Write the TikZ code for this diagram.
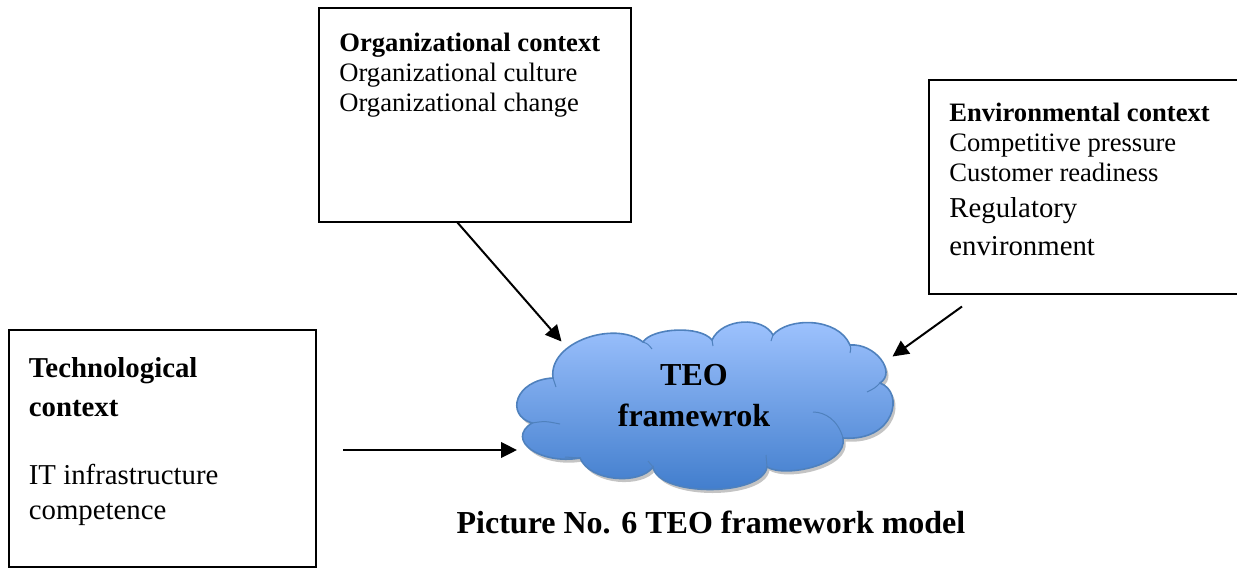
\documentclass[tikz,border=0pt]{standalone}
\usepackage{fontspec}
\setmainfont{Liberation Serif}
\usetikzlibrary{fit,arrows.meta}
\definecolor{cloudtop}{HTML}{A0C4FF}
\definecolor{cloudbot}{HTML}{3E7BCB}
\definecolor{cloudline}{HTML}{4F81BD}
\definecolor{cloudshadow}{HTML}{C4C4C4}
\tikzset{
  box/.style={draw=black, line width=1pt, inner sep=0pt},
  txt/.style={anchor=base west, inner sep=0pt},
  small/.style={font=\fontsize{13.3}{15}\selectfont},
  big/.style={font=\fontsize{14.4}{16}\selectfont},
  cloudtxt/.style={font=\fontsize{16}{18}\selectfont\bfseries, inner sep=0pt, anchor=base},
  arr/.style={line width=1pt, -{Triangle[length=8pt,width=7.8pt]}},
  crease/.style={draw=cloudline, line width=0.5pt}
}
\def\teocloudpath{(553,378) .. controls (548,342) and (615,320) .. (643,342)
 .. controls (652,328) and (700,325) .. (712,340)
 .. controls (722,318) and (763,316) .. (773,335)
 .. controls (788,317) and (838,317) .. (850,345)
 .. controls (875,343) and (897,372) .. (880,383)
 .. controls (905,392) and (895,442) .. (843,438)
 .. controls (848,465) and (785,478) .. (767,467)
 .. controls (762,497) and (658,497) .. (653,467)
 .. controls (640,485) and (590,482) .. (580,458)
 .. controls (540,465) and (505,440) .. (532,423)
 .. controls (505,415) and (515,380) .. (553,378) -- cycle}
\begin{document}
\begin{tikzpicture}[x=0.5pt,y=-0.5pt]
\useasboundingbox (0,0) rectangle (1237,569);
% boxes
\coordinate (orgNW) at (319,7.5);
\coordinate (orgSE) at (631,222);
\node[box, fit=(orgNW)(orgSE)] (org) {};
\coordinate (envNW) at (929,79.5);
\coordinate (envSE) at (1245,294);
\node[box, fit=(envNW)(envSE)] (env) {};
\coordinate (tecNW) at (8.5,329.5);
\coordinate (tecSE) at (315.5,566.5);
\node[box, fit=(tecNW)(tecSE)] (tec) {};
% organizational text
\node[txt, small] (org1) at (339,51) {\bfseries Organizational context};
\node[txt, small] (org2) at (339,81.5) {Organizational culture};
\node[txt, small] (org3) at (339,111.5) {Organizational change};
% environmental text
\node[txt, small] (env1) at (949,121) {\bfseries Environmental context};
\node[txt, small] (env2) at (949,151) {Competitive pressure};
\node[txt, small] (env3) at (949,181) {Customer readiness};
\node[txt, big] (env4) at (949,217) {Regulatory};
\node[txt, big] (env5) at (949,255) {environment};
% technological text
\node[txt, big] (tec1) at (28.5,377) {\bfseries Technological};
\node[txt, big] (tec2) at (28.5,416) {\bfseries context};
\node[txt, big] (tec3) at (28.5,484) {IT infrastructure};
\node[txt, big] (tec4) at (28.5,519) {competence};
% cloud
\fill[cloudshadow, shift={(2.5,3.5)}] \teocloudpath;
\shade[top color=cloudtop, bottom color=cloudbot, draw=cloudline, line width=0.8pt] \teocloudpath;
\draw[crease] (553,378) .. controls (554,382) .. (556,387);
\draw[crease] (643,342) .. controls (648,344) .. (652,349);
\draw[crease] (712,340) .. controls (712,343) .. (713,346);
\draw[crease] (773,335) .. controls (772,338) .. (771,341);
\draw[crease] (850,345) .. controls (851,348) .. (850,353);
\draw[crease] (880,383) .. controls (875,388) .. (867,392);
\draw[crease] (843,438) .. controls (838,420) and (825,412) .. (813,412);
\draw[crease] (767,467) .. controls (767,461) .. (766,455);
\draw[crease] (653,467) .. controls (651,464) .. (648,461);
\draw[crease] (580,458) .. controls (573,458) .. (565,457);
\draw[crease] (532,423) .. controls (545,421) .. (560,424);
\node[cloudtxt] (teo1) at (694,385) {TEO};
\node[cloudtxt] (teo2) at (694,426.5) {framewrok};
% caption
\node[cloudtxt] (cap) at (711,533) {Picture No. 6 TEO framework model};
% arrows
\coordinate (orgA) at (457,222);
\coordinate (orgB) at (561.5,341.5);
\coordinate (envA) at (962,306.5);
\coordinate (envB) at (892.5,356.5);
\coordinate (tecA) at (343,450);
\coordinate (tecB) at (517,450);
\draw[arr] (orgA) -- (orgB);
\draw[arr] (envA) -- (envB);
\draw[arr] (tecA) -- (tecB);
\end{tikzpicture}
\end{document}
